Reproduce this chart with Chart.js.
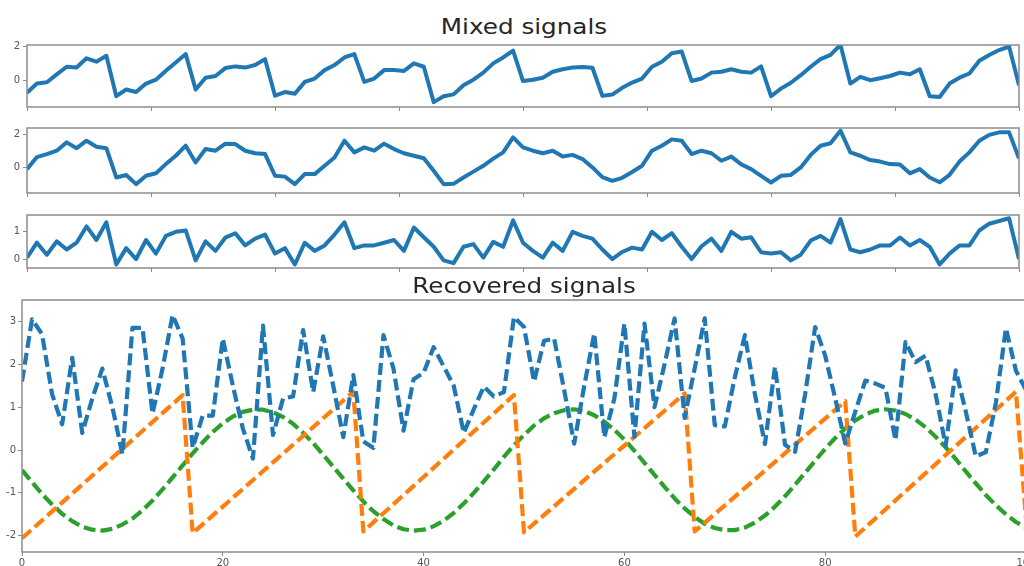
<!DOCTYPE html>
<html>
<head>
<meta charset="utf-8">
<script src="https://cdn.jsdelivr.net/npm/chart.js@4.4.1/dist/chart.umd.min.js"></script>
<style>
  html, body { margin: 0; padding: 0; background: #fff; width: 1024px; height: 566px; overflow: hidden; position: relative; }
  canvas { position: absolute; left: 0; }
  .title {
    position: absolute; left: 0; width: 1048px; text-align: center;
    font-family: "DejaVu Sans", sans-serif; font-size: 22px; line-height: 22px;
    color: #262626; white-space: nowrap;
    transform: scaleX(1.12); transform-origin: 524px 0;
  }
</style>
</head>
<body>
<div class="title" style="top:16px">Mixed signals</div>
<canvas id="mixed1" width="1024" height="80" style="top:36px"></canvas>
<canvas id="mixed2" width="1024" height="83" style="top:119px"></canvas>
<canvas id="mixed3" width="1024" height="71" style="top:206px"></canvas>
<div class="title" style="top:275px">Recovered signals</div>
<canvas id="recovered" width="1040" height="276" style="top:290px"></canvas>

<script>
// observed (mixed) signals, one value per sample 0..100
const mixed1 = [
  -0.75, -0.2, -0.12, 0.35, 0.8, 0.75, 1.3, 1.1, 1.45, -0.95,
  -0.55, -0.7, -0.2, 0.03, 0.56, 1.05, 1.55, -0.55, 0.15, 0.25,
  0.72, 0.82, 0.75, 0.9, 1.25, -0.92, -0.7, -0.8, -0.1, 0.1,
  0.6, 0.9, 1.35, 1.55, -0.1, 0.1, 0.6, 0.6, 0.55, 1.0,
  0.8, -1.3, -0.95, -0.84, -0.3, 0.03, 0.45, 1.0, 1.35, 1.75,
  -0.05, 0.03, 0.15, 0.5, 0.65, 0.75, 0.78, 0.74, -0.93, -0.85,
  -0.45, -0.14, 0.1, 0.8, 1.1, 1.6, 1.7, -0.05, 0.1, 0.45,
  0.5, 0.65, 0.5, 0.45, 0.82, -0.95, -0.5, -0.15, 0.3, 0.8,
  1.25, 1.5, 2.1, -0.2, 0.2, 0.0, 0.12, 0.25, 0.45, 0.35,
  0.65, -0.95, -1.0, -0.2, 0.15, 0.4, 1.15, 1.5, 1.79, 2.0,
  -0.3,
];
const mixed2 = [
  -0.1, 0.62, 0.8, 1.0, 1.5, 1.15, 1.6, 1.24, 1.15, -0.6,
  -0.45, -1.0, -0.5, -0.35, 0.2, 0.7, 1.3, 0.3, 1.1, 1.0,
  1.42, 1.4, 1.0, 0.85, 0.8, -0.5, -0.55, -1.0, -0.4, -0.4,
  0.1, 0.6, 1.6, 0.9, 1.2, 1.0, 1.42, 1.1, 0.85, 0.7,
  0.55, -0.2, -1.0, -0.98, -0.6, -0.25, 0.1, 0.53, 0.9, 1.8,
  1.2, 1.0, 0.85, 1.0, 0.65, 0.75, 0.5, 0.0, -0.58, -0.8,
  -0.62, -0.27, 0.1, 1.0, 1.3, 1.68, 1.6, 0.8, 1.0, 0.85,
  0.4, 0.65, 0.18, -0.1, -0.5, -0.9, -0.5, -0.45, 0.0, 0.75,
  1.3, 1.45, 2.2, 0.9, 0.7, 0.44, 0.35, 0.2, 0.18, -0.35,
  -0.1, -0.6, -0.89, -0.44, 0.35, 0.9, 1.6, 1.95, 2.1, 2.1,
  0.55,
];
const mixed3 = [
  0.05, 0.6, 0.16, 0.65, 0.35, 0.6, 1.2, 0.7, 1.35, -0.2,
  0.4, 0.0, 0.7, 0.2, 0.85, 1.0, 1.05, -0.05, 0.65, 0.3,
  0.79, 0.95, 0.5, 0.75, 0.9, 0.2, 0.4, -0.2, 0.6, 0.3,
  0.5, 0.9, 1.35, 0.4, 0.5, 0.5, 0.6, 0.7, 0.3, 1.16,
  0.8, 0.45, -0.05, -0.15, 0.45, 0.55, 0.05, 0.63, 0.45, 1.42,
  0.6, 0.3, 0.05, 0.6, 0.3, 1.0, 0.85, 0.75, 0.35, 0.0,
  0.26, 0.42, 0.35, 1.0, 0.7, 0.95, 0.45, 0.0, 0.47, 0.75,
  0.3, 1.0, 0.75, 0.8, 0.25, 0.2, 0.25, -0.05, 0.16, 0.68,
  0.85, 0.6, 1.47, 0.35, 0.25, 0.35, 0.5, 0.5, 0.79, 0.5,
  0.7, 0.45, -0.2, 0.2, 0.5, 0.5, 1.05, 1.3, 1.4, 1.5,
  0.0,
];

// recovered sources
const recoveredBlue = [
  1.6, 3.05, 2.7, 1.3, 0.6, 2.15, 0.4, 1.2, 1.9, 1.0,
  -0.1, 2.85, 2.85, 0.85, 1.9, 3.15, 2.6, 0.05, 0.8, 0.8,
  2.6, 1.5, 0.5, -0.2, 2.9, 0.35, 1.2, 1.25, 2.8, 1.35,
  2.65, 1.5, 0.3, 1.75, 0.2, 0.05, 2.68, 1.9, 0.45, 1.65,
  1.8, 2.4, 1.95, 1.5, 0.4, 0.95, 1.48, 1.25, 1.35, 3.1,
  2.87, 1.6, 2.55, 2.6, 1.4, 0.15, 1.5, 2.72, 0.3, 1.2,
  2.95, 0.31, 2.95, 1.0, 2.0, 3.07, 0.75, 1.9, 3.07, 0.58,
  0.55, 1.7, 2.68, 1.3, 0.14, 1.94, 0.12, -0.04, 1.3, 2.87,
  2.2, 1.2, 0.15, 0.9, 1.62, 1.55, 1.45, 0.23, 2.52, 2.05,
  2.2, 1.3, 0.1, 1.86, 0.9, -0.15, -0.05, 1.1, 2.84, 1.85,
  1.4,
];
const recoveredGreen = [
  -0.47, -0.75, -1.03, -1.27, -1.49, -1.66, -1.79, -1.86, -1.88, -1.84,
  -1.74, -1.6, -1.41, -1.18, -0.92, -0.64, -0.36, -0.08, 0.18, 0.42,
  0.62, 0.78, 0.89, 0.94, 0.94, 0.88, 0.77, 0.61, 0.4, 0.16,
  -0.11, -0.39, -0.67, -0.94, -1.2, -1.43, -1.61, -1.76, -1.85, -1.88,
  -1.86, -1.78, -1.65, -1.47, -1.25, -1.0, -0.73, -0.45, -0.16, 0.11,
  0.35, 0.57, 0.74, 0.86, 0.93, 0.95, 0.91, 0.81, 0.66, 0.47,
  0.24, -0.02, -0.3, -0.58, -0.86, -1.13, -1.36, -1.56, -1.72, -1.82,
  -1.87, -1.87, -1.81, -1.69, -1.53, -1.32, -1.08, -0.81, -0.53, -0.25,
  0.03, 0.28, 0.5, 0.69, 0.83, 0.92, 0.95, 0.92, 0.84, 0.71,
  0.53, 0.31, 0.06, -0.21, -0.5, -0.78, -1.05, -1.29, -1.5, -1.68,
  -1.8,
];
// sawtooth: only the corners are given, the ramps are straight
const sawX = [0, 16, 17, 33, 34, 49, 50, 66, 67, 82, 83, 99, 100];
const sawY = [-2.06, 1.28, -1.94, 1.36, -1.9, 1.28, -1.92, 1.32, -1.9, 1.14, -2.02, 1.36, -1.6];

const mixedTicksX = [0, 12.5, 25, 37.5, 50, 62.5, 75, 87.5, 100];
const recoveredTicksX = [0, 20, 40, 60, 80, 100];
const recoveredTicksY = [-2, -1, 0, 1, 2, 3];

const BLUE = "#1f77b4";
const ORANGE = "#ff7f0e";
const GREEN = "#2ca02c";
const SPINE = "#8c8c8c";
const LABEL = "#555555";
const tickFont = { family: "DejaVu Sans", size: 10 };

const toPoints = (ys) => ys.map((y, i) => ({ x: i, y }));

// matplotlib style box round the plot area
const frame = {
  id: "frame",
  afterDatasetsDraw(chart) {
    const { ctx, chartArea: a } = chart;
    ctx.save();
    ctx.strokeStyle = SPINE;
    ctx.lineWidth = 1.5;
    ctx.strokeRect(a.left, a.top, a.right - a.left, a.bottom - a.top);
    ctx.restore();
  },
};

const fixedTicks = (values) => (scale) => {
  scale.ticks = values.map((v) => ({ value: v }));
};

const drawPanel = (id, datasets, o) => {
  new Chart(document.getElementById(id), {
    type: "line",
    data: { datasets },
    plugins: [frame],
    options: {
      responsive: false,
      animation: false,
      devicePixelRatio: 1,
      layout: { padding: { top: o.padTop, right: o.padRight, left: 0, bottom: 0 } },
      plugins: { legend: { display: false }, tooltip: { enabled: false } },
      elements: { point: { radius: 0 }, line: { tension: 0, borderCapStyle: "butt", borderJoinStyle: "round" } },
      scales: {
        x: {
          type: "linear",
          min: 0,
          max: 100,
          afterBuildTicks: fixedTicks(o.xTicks),
          afterFit: (s) => { s.height = o.xH; },
          border: { display: false },
          grid: { drawOnChartArea: false, color: SPINE, tickLength: 4 },
          ticks: { display: o.xLabels, color: LABEL, font: tickFont, padding: 1, maxRotation: 0, autoSkip: false },
        },
        y: {
          min: o.yMin,
          max: o.yMax,
          afterBuildTicks: fixedTicks(o.yTicks),
          afterFit: (s) => { s.width = o.yW; },
          border: { display: false },
          grid: { drawOnChartArea: false, color: SPINE, tickLength: 4 },
          ticks: { color: LABEL, font: tickFont, padding: o.yPad },
        },
      },
    },
  });
};

const solid = (ys) => ({ data: toPoints(ys), borderColor: BLUE, borderWidth: 4 });

const smallPanel = { padTop: 5, padRight: 5, xH: 5, yW: 27, yPad: 3, xTicks: mixedTicksX, xLabels: false };

drawPanel("mixed1", [solid(mixed1)], { ...smallPanel, yMin: -1.59, yMax: 2.09, yTicks: [0, 2] });
drawPanel("mixed2", [solid(mixed2)], { ...smallPanel, yMin: -1.53, yMax: 2.36, yTicks: [0, 2] });
drawPanel("mixed3", [solid(mixed3)], { ...smallPanel, yMin: -0.33, yMax: 1.62, yTicks: [0, 1] });

const dashed = (points, color) => ({ data: points, borderColor: color, borderWidth: 4.2, borderDash: [12, 5] });

drawPanel(
  "recovered",
  [
    dashed(toPoints(recoveredBlue), BLUE),
    dashed(sawX.map((x, i) => ({ x, y: sawY[i] })), ORANGE),
    dashed(toPoints(recoveredGreen), GREEN),
  ],
  {
    padTop: 10, padRight: 14, xH: 14, yW: 22, yPad: 2,
    xTicks: recoveredTicksX, xLabels: true,
    yMin: -2.38, yMax: 3.5, yTicks: recoveredTicksY,
  }
);
</script>
</body>
</html>
